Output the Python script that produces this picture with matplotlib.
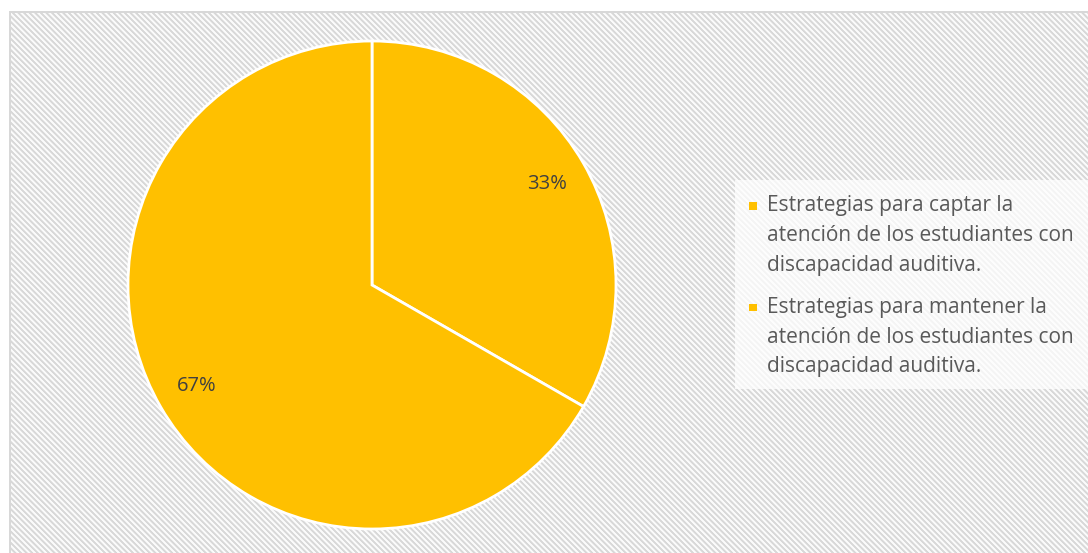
import numpy as np
import matplotlib
matplotlib.use("Agg")
import matplotlib.pyplot as plt
from matplotlib.patches import Rectangle

# ---- data ----
categories = [
    "Estrategias para captar la\natención de los estudiantes con\ndiscapacidad auditiva.",
    "Estrategias para mantener la\natención de los estudiantes con\ndiscapacidad auditiva.",
]
values = [33.3, 66.7]
slice_colors = ["#FFC000", "#FFC000"]

plt.rcParams['font.family'] = ['Open Sans', 'DejaVu Sans']

W, H, DPI = 1088, 553, 100
fig = plt.figure(figsize=(W / DPI, H / DPI), dpi=DPI)
fig.patch.set_facecolor("white")

# ---- hatched chart-area background ----
yy, xx = np.mgrid[0:H, 0:W]
P = 5.6
phase = np.cos(2 * np.pi * (xx - yy) / P)
t = np.clip(0.5 + 0.9 * phase, 0, 1)[..., None]
light = np.array([0.985, 0.985, 0.985])
dark = np.array([0.85, 0.85, 0.85])
img = light * (1 - t) + dark * t
img[:11, :, :] = 1.0
img[:, :9, :] = 1.0
img[11:13, 9:, :] = 0.85
img[11:, 9:11, :] = 0.85
fig.figimage(img, xo=0, yo=0, origin="upper", zorder=-1)

# ---- pie ----
cx, cy, r = 372, 285, 244
ax = fig.add_axes([(cx - r) / W, (H - cy - r) / H, 2 * r / W, 2 * r / H])
ax.patch.set_visible(False)
wedges, texts, autotexts = ax.pie(
    values, colors=slice_colors, startangle=90, counterclock=False,
    autopct="%1.0f%%", pctdistance=0.83, radius=1.0,
    wedgeprops=dict(edgecolor="white", linewidth=2.0),
    textprops=dict(color="#404040", fontsize=14.5),
)
ax.set_xlim(-1, 1)
ax.set_ylim(-1, 1)
ax.axis("off")

# ---- legend (drawn manually so the marker sits on the first line) ----
def fx(px):
    return px / W

def fy(py):
    return 1 - py / H

fig.add_artist(Rectangle((fx(735), fy(389)), fx(1088) - fx(735), fy(180) - fy(389),
                         transform=fig.transFigure, facecolor="white",
                         alpha=0.72, edgecolor="none", zorder=1))
entry_top = [211.5, 313.0]
line_pitch = 29.7
for i, (lab, col) in enumerate(zip(categories, slice_colors)):
    base = entry_top[i]
    fig.add_artist(Rectangle((fx(749), fy(base - 2)), 8 / W, 7.5 / H,
                             transform=fig.transFigure, facecolor=col,
                             edgecolor="none", zorder=2))
    for j, line in enumerate(lab.split("\n")):
        fig.text(fx(767), fy(base + j * line_pitch), line, ha="left",
                 va="baseline", fontsize=15, color="#595959", zorder=3)

fig.savefig("out.png", dpi=DPI, facecolor="white")
